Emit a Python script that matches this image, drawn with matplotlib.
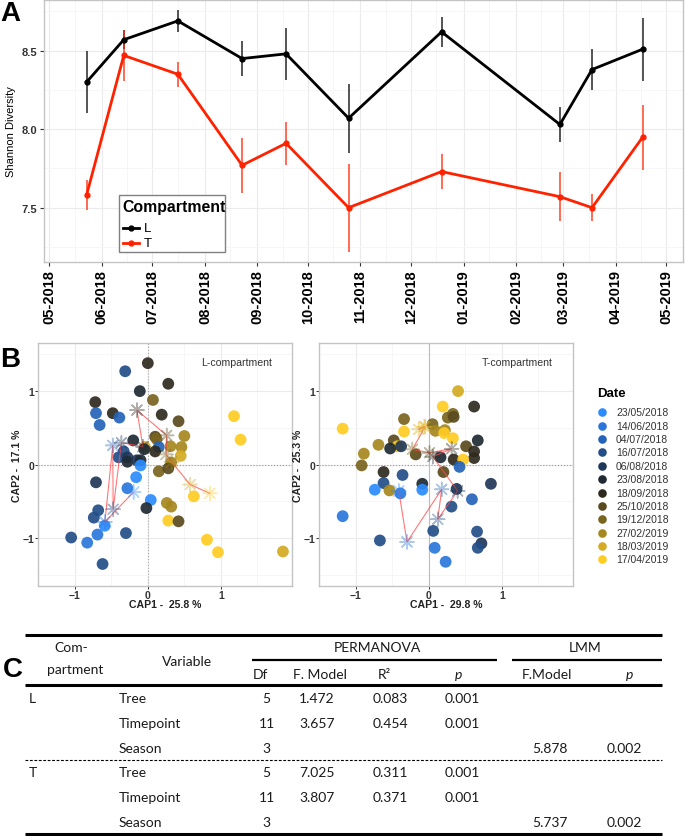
import matplotlib
matplotlib.use('Agg')
import matplotlib.pyplot as plt
import matplotlib.dates as mdates
from matplotlib.ticker import FormatStrFormatter
from matplotlib.patches import Rectangle
import numpy as np
import pandas as pd

plt.rcParams['font.family'] = ['Liberation Sans', 'DejaVu Sans']

W, H = 685, 837
fig = plt.figure(figsize=(W / 100, H / 100), dpi=100)
fig.patch.set_facecolor('white')


def add_ax(l, t, r, b):
    return fig.add_axes([l / W, 1 - b / H, (r - l) / W, (b - t) / H])


# ---------------- data: panel A ----------------
compartments = ['L', 'T']
comp_colors = ['#000000', '#FF2200']
dates_A = ['2018-05-23', '2018-06-14', '2018-07-16', '2018-08-23', '2018-09-18',
           '2018-10-25', '2018-12-19', '2019-02-27', '2019-03-18', '2019-04-17']
shannon_L = [8.30, 8.57, 8.69, 8.45, 8.48, 8.07, 8.62, 8.03, 8.38, 8.51]
err_L = [0.20, 0.06, 0.07, 0.11, 0.165, 0.22, 0.095, 0.11, 0.13, 0.20]
shannon_T = [7.58, 8.47, 8.35, 7.77, 7.91, 7.50, 7.73, 7.57, 7.50, 7.95]
err_T = [0.095, 0.165, 0.08, 0.175, 0.135, 0.28, 0.11, 0.155, 0.088, 0.207]

# ---------------- data: panel B ----------------
dates_B = ['23/05/2018', '14/06/2018', '04/07/2018', '16/07/2018', '06/08/2018',
           '23/08/2018', '18/09/2018', '25/10/2018', '19/12/2018', '27/02/2019',
           '18/03/2019', '17/04/2019']
date_colors = ['#2B8CFF', '#2A76DC', '#2563B8', '#234E88', '#1F3758', '#1F2A33',
               '#2E2A1E', '#5A4A1E', '#7A6520', '#A6881F', '#D4AB22', '#FFCC22']

capL_x = [0.00, -0.31, 0.28, -0.11, 0.07, -0.72, -0.71, -0.48, 0.19, -0.39, -0.66, 0.42,
          1.18, 0.50, 1.27, -0.20, 0.10, 0.12, -0.04, -0.05, 0.15, 0.10, 0.31, 0.46,
          0.45, -0.33, -0.40, -0.28, -0.28, -0.15, -0.10, -0.10, 0.32, 0.15, 0.28, -0.16,
          -0.71, -0.28, 0.63, 0.04, 0.26, 0.32, -0.02, -0.68, -0.74, -0.59, 0.28, 0.42,
          -0.69, -0.30, -1.05, -0.83, 0.81, 0.96, 1.85, -0.62]
capL_y = [1.38, 1.27, 1.10, 1.00, 0.88, 0.85, 0.70, 0.70, 0.68, 0.64, 0.54, 0.59,
          0.66, 0.39, 0.34, 0.33, 0.38, 0.35, 0.24, 0.21, 0.24, 0.18, 0.25, 0.24,
          0.12, 0.18, 0.10, 0.10, 0.04, 0.06, 0.06, -0.01, 0.03, -0.09, -0.05, -0.17,
          -0.24, -0.32, -0.43, -0.48, -0.52, -0.57, -0.59, -0.62, -0.72, -0.83, -0.76, -0.77,
          -0.95, -0.93, -0.99, -1.06, -1.02, -1.19, -1.18, -1.35]
capL_date = [7, 4, 7, 6, 9, 7, 3, 7, 7, 3, 3, 8,
             12, 10, 12, 6, 8, 9, 11, 6, 3, 7, 10, 10,
             11, 4, 4, 5, 6, 5, 6, 1, 10, 9, 8, 1,
             5, 2, 12, 1, 10, 10, 6, 4, 4, 1, 12, 8,
             2, 4, 4, 2, 12, 12, 11, 4]
centL_x = [-0.195, -0.588, -0.48, -0.475, -0.362, -0.068, -0.149, 0.258, 0.249, 0.326, 0.58, 0.85]
centL_y = [-0.371, -0.778, 0.262, -0.606, 0.299, 0.244, 0.742, 0.398, 0.14, 0.036, -0.27, -0.39]

capT_x = [0.40, 0.19, 0.62, 0.26, 0.33, 0.34, -0.34, -1.18, -0.34, 0.05, 0.09, 0.22,
          0.21, 0.33, -0.48, -0.69, -0.43, -0.53, -0.38, -0.89, -0.92, -0.18, 0.51, 0.67,
          0.62, 0.62, 0.16, 0.34, 0.47, 0.42, -0.62, -0.36, 0.20, -0.62, -0.09, -0.74,
          -0.54, -0.39, -0.09, 0.38, 0.85, 0.59, 0.31, -1.18, 0.06, 0.66, -0.67, 0.72,
          0.67, 0.08, 0.23]
capT_y = [1.00, 0.79, 0.79, 0.64, 0.69, 0.65, 0.62, 0.49, 0.45, 0.55, 0.46, 0.47,
          0.43, 0.36, 0.33, 0.27, 0.25, 0.22, 0.25, 0.15, -0.01, 0.14, 0.25, 0.33,
          0.18, 0.09, 0.10, 0.07, 0.07, -0.03, -0.10, -0.14, -0.10, -0.25, -0.26, -0.34,
          -0.35, -0.39, -0.34, -0.33, -0.26, -0.47, -0.57, -0.70, -0.90, -0.91, -1.03, -1.07,
          -1.13, -1.13, -1.32]
capT_date = [11, 12, 7, 9, 9, 8, 9, 12, 12, 9, 10, 10,
             12, 12, 8, 10, 12, 6, 5, 10, 9, 8, 8, 6,
             7, 7, 6, 7, 12, 3, 7, 4, 8, 4, 6, 1,
             10, 2, 1, 5, 5, 3, 4, 2, 4, 4, 4, 5,
             4, 2, 2]
centT_x = [-0.412, -0.299, 0.176, 0.122, 0.394, 0.054, 0.312, 0.009, -0.226, -0.05, -0.14, -0.068]
centT_y = [-0.357, -1.05, -0.335, -0.742, -0.357, 0.109, 0.217, 0.163, 0.208, 0.516, 0.48, 0.516]

cap_titles = ['L-compartment', 'T-compartment']
cap1_labels = ['CAP1 -  25.8 %', 'CAP1 -  29.8 %']
cap2_labels = ['CAP2 -  17.1 %', 'CAP2 -  25.3 %']

# ---------------- data: panel C ----------------
tab_comp = ['L', '', '', 'T', '', '']
tab_var = ['Tree', 'Timepoint', 'Season', 'Tree', 'Timepoint', 'Season']
tab_df = ['5', '11', '3', '5', '11', '3']
tab_fmodel = ['1.472', '3.657', '', '7.025', '3.807', '']
tab_r2 = ['0.083', '0.454', '', '0.311', '0.371', '']
tab_p = ['0.001', '0.001', '', '0.001', '0.001', '']
tab_lmm_f = ['', '', '5.878', '', '', '5.737']
tab_lmm_p = ['', '', '0.002', '', '', '0.002']

# ================= Panel A =================
axA = add_ax(44.3, 0.7, 683.3, 263.3)
dA = pd.to_datetime(dates_A)
for vals, errs, col in [(shannon_L, err_L, comp_colors[0]), (shannon_T, err_T, comp_colors[1])]:
    v = np.array(vals)
    e = np.array(errs)
    axA.vlines(dA, v - e, v + e, color=col, lw=1.1, alpha=0.85, zorder=3)
    axA.plot(dA, v, color=col, lw=2.0, marker='o', ms=3.5, zorder=4)
axA.set_xlim(pd.Timestamp('2018-04-28'), pd.Timestamp('2019-05-11'))
axA.set_ylim(7.152, 8.825)
axA.xaxis.set_major_locator(mdates.MonthLocator())
axA.xaxis.set_major_formatter(mdates.DateFormatter('%m-%Y'))
axA.xaxis.set_minor_locator(mdates.MonthLocator(bymonthday=16))
axA.set_yticks([7.5, 8.0, 8.5])
axA.set_yticks([7.25, 7.75, 8.25, 8.75], minor=True)
axA.yaxis.set_major_formatter(FormatStrFormatter('%.1f'))
axA.grid(which='major', color='#ebebeb', lw=0.8)
axA.grid(which='minor', color='#f5f5f5', lw=0.6)
axA.set_axisbelow(True)
axA.tick_params(axis='x', which='major', labelrotation=90, labelsize=10.5, length=3,
                width=0.8, color='#333333', pad=2, labelcolor='black')
axA.tick_params(axis='y', which='major', labelsize=8, length=3, width=0.8,
                color='#333333', pad=2, labelcolor='#333333')
axA.tick_params(which='minor', length=0)
for lab in axA.get_xticklabels() + axA.get_yticklabels():
    lab.set_fontweight('bold')
for s in axA.spines.values():
    s.set_color('#c4c4c4')
    s.set_linewidth(1.0)
axA.set_ylabel('Shannon Diversity', fontsize=8, color='black')
axA.yaxis.set_label_coords(-(44.3 - 16) / (683.3 - 44.3), 0.5)

# ================= Panel B =================
axBL = add_ax(38.3, 344.3, 291.7, 586.7)
axBR = add_ax(319.3, 344.3, 572.7, 586.7)
panels = [(axBL, capL_x, capL_y, capL_date, centL_x, centL_y, ':', '#aaaaaa'),
          (axBR, capT_x, capT_y, capT_date, centT_x, centT_y, '-', '#bdbdbd')]
for i, (ax, xs, ys, ds, cx, cy, vls, vcol) in enumerate(panels):
    ax.set_xlim(-1.46, 1.97)
    ax.set_ylim(-1.645, 1.65)
    ax.set_xticks([-1, 0, 1])
    ax.set_yticks([-1, 0, 1])
    ax.set_xticks([-1.5, -0.5, 0.5, 1.5], minor=True)
    ax.set_yticks([-1.5, -0.5, 0.5, 1.5], minor=True)
    ax.grid(which='major', color='#ebebeb', lw=0.8)
    ax.grid(which='minor', color='#f5f5f5', lw=0.6)
    ax.set_axisbelow(True)
    ax.axhline(0, color='#9a9a9a', lw=0.8, ls=':', zorder=1)
    ax.axvline(0, color=vcol, lw=0.8, ls=vls, zorder=1)
    cols = [date_colors[d - 1] for d in ds]
    ax.scatter(xs, ys, c=cols, s=72, alpha=0.92, edgecolors='none', zorder=3)
    ax.plot(cx, cy, color='#ff4a4a', lw=0.8, alpha=0.75, zorder=4)
    ax.scatter(cx, cy, marker=(8, 2, 0), s=100, c=date_colors, alpha=0.38,
               linewidths=1.1, zorder=5)
    ax.tick_params(which='major', labelsize=7.5, length=2, width=0.7,
                   color='#333333', pad=1.0, labelcolor='#333333')
    ax.tick_params(which='minor', length=0)
    for lab in ax.get_xticklabels() + ax.get_yticklabels():
        lab.set_fontweight('bold')
    for s in ax.spines.values():
        s.set_color('#c4c4c4')
        s.set_linewidth(1.0)
    ax.text(0.781, 0.923, cap_titles[i], transform=ax.transAxes, ha='center',
            va='center', fontsize=7.6, color='#333333')

# ================= overlay (labels, legends, table) =================
ov = fig.add_axes([0, 0, 1, 1])
ov.set_xlim(0, W)
ov.set_ylim(H, 0)
ov.axis('off')
ov.patch.set_alpha(0)
ov.set_zorder(10)

# panel letters
ov.text(0, 14, 'A', fontsize=20, fontweight='bold', ha='left', va='center')
ov.text(0, 360, 'B', fontsize=20, fontweight='bold', ha='left', va='center')
ov.text(3, 670, 'C', fontsize=20, fontweight='bold', ha='left', va='center')

# legend A
ov.add_patch(Rectangle((119, 196), 106, 57, facecolor='white', edgecolor='#808080', lw=1.0))
ov.text(122, 207, 'Compartment', fontsize=11.4, fontweight='bold', ha='left', va='center')
for i, (lab, col) in enumerate(zip(compartments, comp_colors)):
    yy = 229 + 14.5 * i
    ov.plot([123, 139], [yy, yy], color=col, lw=2.0)
    ov.plot([131], [yy], marker='o', ms=3.5, color=col)
    ov.text(144, yy, lab, fontsize=9.5, ha='left', va='center')

# CAP axis labels
for i, (l, r) in enumerate([(38.3, 291.7), (319.3, 572.7)]):
    ov.text((l + r) / 2, 604.5, cap1_labels[i], fontsize=7.6, fontweight='bold',
            ha='center', va='center', color='#222222')
    ov.text(l - 21, 465.5, cap2_labels[i], fontsize=7.6, fontweight='bold',
            ha='center', va='center', rotation=90, color='#222222')

# Date legend
ov.text(597, 394, 'Date', fontsize=9.5, fontweight='bold', ha='left', va='center')
for i, (lab, col) in enumerate(zip(dates_B, date_colors)):
    yy = 413.3 + i * 13.37
    ov.plot([602.3], [yy], marker='o', ms=6.2, color=col, mec='none')
    ov.text(616, yy, lab, fontsize=7.5, ha='left', va='center', color='#333333')

# table
TF = ['Lato', 'DejaVu Sans']
tfs = 10
tcol = '#1a1a1a'
ov.plot([25.3, 661.6], [635.7, 635.7], color='black', lw=2.2, solid_capstyle='butt')
ov.plot([252, 497], [660.7, 660.7], color='black', lw=1.6, solid_capstyle='butt')
ov.plot([512, 662], [660.7, 660.7], color='black', lw=1.6, solid_capstyle='butt')
ov.plot([25.3, 661.6], [685.7, 685.7], color='black', lw=2.2, solid_capstyle='butt')
ov.plot([25.3, 661.6], [760.7, 760.7], color='black', lw=0.8, ls=(0, (2.5, 1.5)))
ov.plot([25.3, 661.6], [835.0, 835.0], color='black', lw=2.2, solid_capstyle='butt')

ov.text(71, 648, 'Com-', family=TF, fontsize=tfs, ha='center', va='center', color=tcol)
ov.text(75, 670, 'partment', family=TF, fontsize=tfs, ha='center', va='center', color=tcol)
ov.text(187, 661.7, 'Variable', family=TF, fontsize=tfs, ha='center', va='center', color=tcol)
ov.text(377, 648, 'PERMANOVA', family=TF, fontsize=tfs, ha='center', va='center', color=tcol)
ov.text(585, 648, 'LMM', family=TF, fontsize=tfs, ha='center', va='center', color=tcol)
sub_hdr = [('Df', 260.5, 'normal'), ('F. Model', 319.5, 'normal'), ('R²', 384, 'normal'),
           ('p', 459, 'italic'), ('F.Model', 547, 'normal'), ('p', 630, 'italic')]
for txt, xx, st in sub_hdr:
    ov.text(xx, 675, txt, family=TF, fontsize=tfs, style=st, ha='center', va='center', color=tcol)

row_y = [699.3, 724.3, 749.3, 773.3, 798.3, 823.3]
for i, yy in enumerate(row_y):
    ov.text(28.8, yy, tab_comp[i], family=TF, fontsize=tfs, ha='left', va='center', color=tcol)
    ov.text(118.8, yy, tab_var[i], family=TF, fontsize=tfs, ha='left', va='center', color=tcol)
    ov.text(266.5, yy, tab_df[i], family=TF, fontsize=tfs, ha='center', va='center', color=tcol)
    ov.text(317, yy, tab_fmodel[i], family=TF, fontsize=tfs, ha='center', va='center', color=tcol)
    ov.text(390, yy, tab_r2[i], family=TF, fontsize=tfs, ha='center', va='center', color=tcol)
    ov.text(462, yy, tab_p[i], family=TF, fontsize=tfs, ha='center', va='center', color=tcol)
    ov.text(550, yy, tab_lmm_f[i], family=TF, fontsize=tfs, ha='center', va='center', color=tcol)
    ov.text(624, yy, tab_lmm_p[i], family=TF, fontsize=tfs, ha='center', va='center', color=tcol)

fig.savefig('out.png', dpi=100, facecolor='white')
